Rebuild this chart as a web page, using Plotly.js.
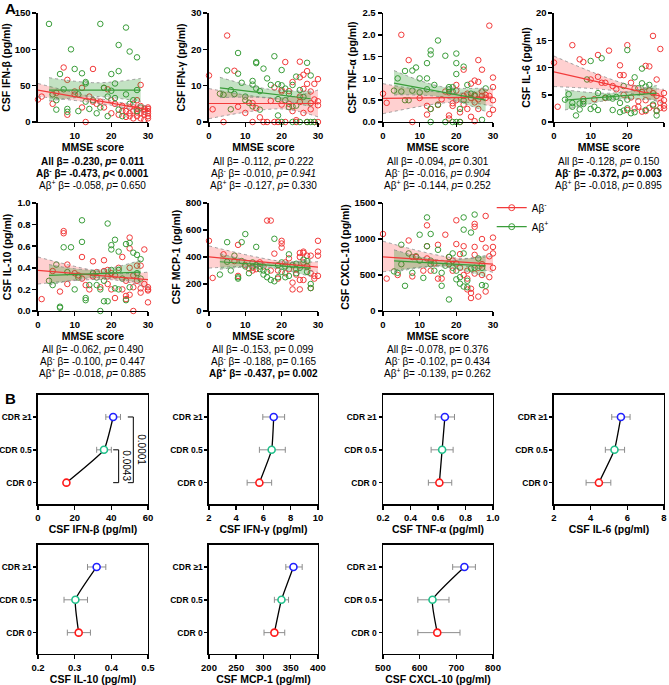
<!DOCTYPE html>
<html>
<head>
<meta charset="utf-8">
<script src="https://cdn.plot.ly/plotly-3.0.1.min.js"></script>
<style>
body { margin: 0; background: #fff; }
#chart { width: 669px; height: 685px; }
</style>
</head>
<body>
<div id="chart"></div>
<script>
// Panel A: CSF cytokines against MMSE score, Aβ- (red) and Aβ+ (green)
var cytokines = ["IFN-β", "IFN-γ", "TNF-α", "IL-6", "IL-10", "MCP-1", "CXCL-10"];
var yMax = [150, 30, 2.5, 20, 1.0, 800, 1500];
var yStep = [50, 10, 0.5, 5, 0.2, 200, 500];
var yFormat = ["", "", ".1f", "", ".1f", "", ""];

var ifnbNeg = [[0,31],[1,35],[4,25],[5,40],[7,75],[8,58],[8,10],[10,38],[10,42],[12,47],[12,20],[13,0],[14,35],[15,73],[15,28],[16,25],[17,28],[18,20],[18,47],[19,45],[20,30],[20,12],[21,25],[22,10],[23,22],[23,15],[24,7],[24,15],[25,20],[25,12],[25,8],[26,5],[26,25],[26,15],[27,30],[27,8],[27,18],[27,13],[28,51],[28,22],[28,12],[28,5],[29,10],[29,18],[29,3],[29,14],[30,15],[30,8],[30,20],[30,12],[30,5],[30,18]];
var ifnbPos = [[3,135],[17,135],[24,130],[9,100],[22,106],[25,97],[27,89],[10,73],[12,67],[6,66],[22,70],[20,66],[13,55],[13,53],[18,47],[21,53],[20,43],[7,45],[27,44],[4,38],[11,38],[5,30],[15,30],[19,35],[24,38],[26,30],[8,18],[8,14],[5,17],[11,15],[14,18],[16,12],[17,20],[19,8],[22,17],[23,8],[25,25],[27,15],[28,20],[13,28],[21,33]];

var ifngNeg = [[0,12.8],[1,3.5],[4,0],[5,23.8],[7,14.1],[8,4.2],[10,2.5],[12,0],[12,5.2],[13,3.8],[14,1.3],[15,0],[16,0],[17,5.8],[18,0],[18,9.5],[19,0],[20,8.8],[20,8.4],[20,4.8],[21,16.5],[21,0],[22,5],[22,8.5],[23,3],[23,11],[24,0.5],[24,0],[25,16.6],[25,12.3],[25,7],[25,5.5],[26,9.1],[26,2.5],[26,13],[27,10.5],[27,0],[27,14],[28,8.4],[28,5.2],[28,3.5],[29,6.2],[29,10.5],[29,0],[30,11.8],[30,5.7],[30,4.6],[30,0]];
var ifngPos = [[3,7.8],[4,7.5],[5,14.2],[6,8.8],[6,3.5],[7,7.7],[8,19],[8,13.3],[9,10.8],[10,7],[10,6],[11,5.3],[12,11.3],[12,10.3],[12,4.3],[13,16.2],[13,16.5],[13,9.2],[14,8.5],[14,3.4],[15,14.7],[16,12],[17,10.2],[18,18.1],[19,10.4],[19,6.3],[19,1.8],[20,14.3],[20,10.1],[20,0],[21,9.2],[21,6],[22,7.8],[22,4.1],[23,10.2],[23,4.3],[23,0],[24,12.5],[24,4.5],[25,8.8],[25,0],[26,6.9],[27,16.3],[27,0],[28,12.8],[28,0],[29,0]];

var tnfNeg = [[0,0.65],[1,0.44],[5,2.0],[7,1.42],[8,0],[10,0.55],[12,0.37],[12,0.17],[13,0.3],[15,0.39],[16,0.52],[17,0.7],[18,0.08],[18,0.15],[18,0.68],[19,0.37],[19,0.43],[20,0.5],[20,0.72],[20,0.85],[21,0.22],[21,0],[22,0.4],[22,0.6],[22,1.2],[23,0.3],[23,0.65],[24,0.88],[24,0.55],[24,0.12],[25,0.95],[25,0.6],[25,0.02],[25,0.45],[26,1.42],[26,0.92],[26,0.52],[26,0.3],[27,1.2],[27,0.7],[27,0.6],[28,0.55],[28,0.62],[29,2.21],[29,0.6],[29,0.18],[30,1.02],[30,0.8],[30,0.5],[30,0.28]];
var tnfPos = [[3,0.72],[4,1.0],[5,0.7],[6,1.17],[6,0.5],[7,0.5],[8,1.18],[8,0.72],[9,1.25],[10,1.0],[10,0.68],[12,1.35],[12,1.0],[12,0.75],[13,1.64],[13,1.55],[13,0.3],[13,0],[14,0.85],[15,1.87],[15,0.4],[17,1.52],[17,0],[18,0.75],[18,0.8],[19,0.8],[19,0.7],[19,0],[20,1.57],[20,1.35],[20,1.1],[20,0],[21,0.3],[21,0],[22,1.27],[22,0.5],[23,0.85],[24,0.65],[25,0.62],[27,0.05],[28,0.77]];

var il6Neg = [[0,10.9],[1,2.8],[5,14.1],[7,11.5],[8,11],[8,4.2],[10,7.8],[11,4.2],[12,12.3],[12,8.3],[13,7.2],[14,4.4],[14,7.2],[15,13.1],[16,6.6],[17,6],[18,10.4],[18,8.6],[19,8.6],[19,5],[20,14.1],[20,2.2],[21,7.2],[21,4.5],[22,6.2],[22,2.5],[23,2.8],[23,3.8],[24,5.5],[24,1.9],[25,10.3],[25,4],[25,2],[26,10.2],[26,5.8],[26,2.6],[27,15.8],[27,5.3],[27,3],[28,7.8],[28,4.8],[28,2],[29,13.4],[29,3.5],[29,2.6],[30,5.3],[30,4],[30,3],[30,2.5]];
var il6Pos = [[3,4.1],[4,5.1],[5,2.8],[5,3.5],[6,1.2],[7,2.3],[7,3.4],[8,3.8],[8,3.3],[9,7.8],[10,11.2],[10,2.4],[11,2.8],[12,5.3],[12,2.2],[13,11.7],[14,4.5],[15,4.5],[16,2.2],[16,4.3],[17,4.6],[18,3.5],[18,1.8],[19,2.1],[19,6.6],[20,13.2],[20,4.1],[20,2.5],[21,1.6],[22,8.2],[22,1.8],[23,6.2],[24,9.8],[24,7.1],[25,6.5],[25,2.2],[26,6.8],[27,3.2],[28,1.2],[28,2.1]];

var il10Neg = [[1,0.11],[4,0.37],[6,0.18],[7,0.74],[7,0.72],[8,0.43],[8,0.25],[10,0.35],[11,0.33],[12,0.3],[12,0.5],[13,0.24],[14,0.2],[15,0.32],[15,0.46],[16,0.36],[17,0.22],[18,0.47],[18,0.37],[19,0.38],[19,0.25],[19,0.32],[20,0.2],[20,0.35],[21,0.33],[21,0.12],[22,0.4],[23,0.2],[23,0.5],[24,0.28],[24,0.11],[24,0.14],[25,0.68],[25,0.58],[25,0.4],[25,0.15],[26,0.33],[26,0.22],[26,0],[27,0.28],[27,0.42],[28,0.42],[28,0.17],[28,0.21],[29,0.57],[29,0.25],[30,0.22],[30,0.19],[30,0.08],[30,0.2]];
var il10Pos = [[3,0.28],[4,0.24],[5,0.43],[6,0.04],[6,0.03],[7,0.59],[8,0.36],[9,0.59],[10,0.2],[11,0.31],[12,0.84],[12,0.64],[13,0.12],[13,0.1],[14,0.24],[15,0.35],[16,0.24],[16,0.31],[17,0.2],[17,0],[18,0.09],[18,0.28],[19,0.81],[19,0.09],[20,0.61],[20,0.57],[20,0.38],[21,0.66],[21,0.21],[22,0.55],[22,0.2],[22,0.38],[23,0.3],[24,0.62],[24,0.1],[25,0.63],[25,0.22],[26,0.54],[27,0.52],[27,0.35],[28,0.48],[28,0.3]];

var mcpNeg = [[0,520],[1,245],[4,420],[7,370],[8,490],[8,260],[10,340],[11,315],[12,300],[12,320],[13,310],[14,360],[15,330],[16,670],[17,670],[17,300],[18,425],[19,240],[19,300],[20,520],[20,500],[20,470],[21,360],[21,280],[22,390],[22,310],[23,210],[23,160],[24,310],[24,270],[25,430],[25,400],[25,160],[25,230],[26,440],[26,430],[26,360],[26,230],[27,330],[27,410],[28,410],[28,280],[28,170],[29,260],[29,240],[30,520],[30,440],[30,410],[30,260]];
var mcpPos = [[3,270],[5,510],[5,365],[6,300],[7,410],[8,240],[8,250],[9,510],[9,370],[10,570],[10,330],[11,280],[12,360],[12,330],[13,475],[13,340],[14,310],[14,330],[15,270],[15,300],[16,290],[16,250],[17,230],[18,220],[18,535],[19,340],[19,250],[20,290],[20,360],[21,330],[21,250],[22,420],[22,260],[23,340],[24,350],[24,280],[25,320],[26,380],[27,370],[27,290],[28,200],[28,170]];

var cxclNeg = [[0,1070],[1,450],[4,500],[7,980],[8,480],[8,750],[9,750],[11,560],[12,1190],[12,900],[12,730],[13,560],[14,660],[15,920],[15,450],[16,450],[17,1060],[18,750],[18,650],[19,560],[19,700],[20,1260],[20,930],[20,660],[21,600],[21,790],[22,900],[22,500],[23,450],[23,300],[23,560],[24,310],[24,250],[24,180],[25,1210],[25,1170],[25,890],[25,780],[25,520],[26,600],[26,200],[27,1000],[27,650],[27,500],[28,1320],[28,880],[28,270],[29,470],[29,760],[30,1020],[30,890],[30,600],[30,800]];
var cxclPos = [[3,550],[4,530],[5,920],[5,650],[6,350],[7,800],[8,530],[9,760],[10,1060],[10,700],[11,460],[12,1300],[12,900],[13,1070],[13,700],[13,650],[14,560],[15,850],[16,350],[16,530],[17,630],[18,160],[18,750],[19,800],[19,600],[20,440],[20,560],[21,380],[21,470],[22,1300],[22,1130],[22,800],[22,340],[23,420],[23,330],[24,1090],[24,590],[25,1340],[25,600],[26,730],[27,360],[27,600],[28,350]];

var negPoints = [ifnbNeg, ifngNeg, tnfNeg, il6Neg, il10Neg, mcpNeg, cxclNeg];
var posPoints = [ifnbPos, ifngPos, tnfPos, il6Pos, il10Pos, mcpPos, cxclPos];

// regression lines (start, end) and 95% CI read at the band x positions
var negFitX = [0, 30];
var negBandX = [0, 20, 30];
var posFitX = [3, 28];
var posBandX = [3, 16, 28];
var negLine = [[44, 17], [5.1, 5.1], [0.54, 0.57], [9.2, 4.6], [0.377, 0.29], [401, 325], [752, 651]];
var negLo = [[35, 23, 12], [0.9, 3.6, 1.4], [0.19, 0.46, 0.36], [6.5, 5.4, 3.3], [0.25, 0.29, 0.22], [318, 332, 285], [545, 635, 537]];
var negHi = [[53, 29, 22], [9.2, 6.6, 8.8], [0.88, 0.66, 0.78], [12.1, 6.9, 6.0], [0.50, 0.35, 0.36], [482, 368, 365], [970, 735, 766]];
var posLine = [[44, 44], [9.4, 6.4], [0.89, 0.50], [4.0, 5.3], [0.33, 0.36], [365, 318], [697, 628]];
var posLo = [[29, 35, 28], [6.7, 6.6, 4.2], [0.62, 0.57, 0.24], [2.2, 4.1, 4.0], [0.24, 0.31, 0.26], [310, 325, 255], [540, 615, 475]];
var posHi = [[61, 54, 60], [12.3, 9.1, 8.5], [1.18, 0.81, 0.78], [5.9, 5.3, 6.7], [0.43, 0.38, 0.47], [425, 356, 380], [850, 705, 770]];

var statsAll = ["<b>All β= -0.230, <i>p</i>= 0.011</b>", "All β= -0.112, <i>p</i>= 0.222", "All β= -0.094, <i>p</i>= 0.301",
  "All β= -0.128, <i>p</i>= 0.150", "All β= -0.062, <i>p</i>= 0.490", "All β= -0.153, p= 0.099", "All β= -0.078, p= 0.376"];
var statsNeg = ["<b>Aβ<sup>-</sup> β= -0.473, <i>p</i>< 0.0001</b>", "Aβ<sup>-</sup> β= -0.010, <i>p</i>= <i>0.941</i>",
  "Aβ<sup>-</sup> β= -0.016, <i>p</i>= <i>0.904</i>", "<b>Aβ<sup>-</sup> β= -0.372, <i>p</i>= 0.003</b>",
  "Aβ<sup>-</sup> β= -0.100, <i>p</i>= 0.447", "Aβ<sup>-</sup> β= -0.188, p= 0.165", "Aβ<sup>-</sup> β= -0.102, p= 0.434"];
var statsPos = ["Aβ<sup>+</sup> β= -0.058, <i>p</i>= 0.650", "Aβ<sup>+</sup> β= -0.127, <i>p</i>= 0.330",
  "Aβ<sup>+</sup> β= -0.144, <i>p</i>= 0.252", "Aβ<sup>+</sup> β= -0.018, <i>p</i>= 0.895",
  "Aβ<sup>+</sup> β= -0.018, <i>p</i>= 0.885", "<b>Aβ<sup>+</sup> β= -0.437, p= 0.002</b>", "Aβ<sup>+</sup> β= -0.139, p= 0.262"];

// Panel B: cytokine level by CDR group (mean with SEM)
var cdrLabels = ["CDR 0", "CDR 0.5", "CDR ≥1"];
var cdrColors = ["#ff1a1a", "#1fc08a", "#2020ff"];
var bMean = [[15.5, 36, 41], [5.7, 6.6, 6.75], [0.61, 0.63, 0.65], [4.45, 5.3, 5.65], [0.311, 0.302, 0.36], [320, 333, 355], [648, 635, 722]];
var bLo = [[14.5, 32, 37], [4.8, 5.7, 5.95], [0.53, 0.55, 0.58], [3.75, 4.8, 5.15], [0.28, 0.271, 0.335], [301, 320, 341], [595, 595, 690]];
var bHi = [[16.5, 40, 45], [6.6, 7.6, 7.55], [0.70, 0.71, 0.72], [5.1, 5.85, 6.15], [0.343, 0.335, 0.385], [339, 346, 371], [710, 680, 752]];
var bRange = [[0, 60], [2, 10], [0.2, 1.0], [2, 8], [0.2, 0.5], [200, 400], [500, 800]];
var bStep = [20, 2, 0.2, 2, 0.1, 50, 100];
var bFormat = ["", "", ".1f", "", ".1f", "", ""];
var pLabels = ["0.0043", "0.0001"];
var bracketX = [44, 52];

var FONT = "Liberation Sans, Arial, sans-serif";
var RED = "#f23a3a", GREEN = "#3a9d3a";
var colA = [[0.0568, 0.2212], [0.3124, 0.4753], [0.5725, 0.7369], [0.8281, 0.9925]];
var rowA = [[0.8219, 0.9810], [0.5460, 0.7036]];
var rowB = [[0.2642, 0.4234], [0.0453, 0.2044]];

var data = [];
var layout = {
  width: 669, height: 685,
  margin: {l: 0, r: 0, t: 0, b: 0},
  paper_bgcolor: "#fff", plot_bgcolor: "rgba(0,0,0,0)",
  font: {family: FONT, color: "#000"},
  showlegend: true,
  legend: {x: 0.735, y: 0.718, xanchor: "left", yanchor: "top", font: {size: 10, family: FONT},
           bgcolor: "rgba(0,0,0,0)", itemwidth: 30, tracegroupgap: 0, traceorder: "normal"},
  annotations: [], shapes: []
};

function pyFromPx(px) { return 1 - px / 685; }

function axisBase() {
  return {
    showgrid: false, zeroline: false, showline: true, linecolor: "#000", linewidth: 1.5,
    ticks: "outside", ticklen: 4, tickwidth: 1.5, tickcolor: "#000",
    tickfont: {family: FONT, size: 9.5, weight: "bold", color: "#000"},
    fixedrange: true
  };
}

function col(arr, j) { return arr.map(function (p) { return p[j]; }); }

// --- Panel A subplots ---
for (var i = 0; i < 7; i++) {
  var k = i + 1;
  var xa = "x" + (k === 1 ? "" : k), ya = "y" + (k === 1 ? "" : k);
  var r = i < 4 ? 0 : 1, c = i % 4;

  data.push({x: col(negPoints[i], 0), y: col(negPoints[i], 1), xaxis: xa, yaxis: ya, type: "scatter", mode: "markers",
    marker: {symbol: "circle-open", size: 5.5, color: RED, line: {width: 1}}, cliponaxis: false, showlegend: false, hoverinfo: "skip"});
  data.push({x: col(posPoints[i], 0), y: col(posPoints[i], 1), xaxis: xa, yaxis: ya, type: "scatter", mode: "markers",
    marker: {symbol: "circle-open", size: 5.5, color: GREEN, line: {width: 1}}, cliponaxis: false, showlegend: false, hoverinfo: "skip"});

  var edge = {color: "#8a8a8a", width: 0.8, dash: "dot", shape: "spline"};
  data.push({x: negBandX, y: negLo[i], xaxis: xa, yaxis: ya, mode: "lines", line: edge, showlegend: false, hoverinfo: "skip"});
  data.push({x: negBandX, y: negHi[i], xaxis: xa, yaxis: ya, mode: "lines", line: edge, fill: "tonexty",
    fillcolor: "rgba(255,40,40,0.22)", showlegend: false, hoverinfo: "skip"});
  data.push({x: posBandX, y: posLo[i], xaxis: xa, yaxis: ya, mode: "lines", line: edge, showlegend: false, hoverinfo: "skip"});
  data.push({x: posBandX, y: posHi[i], xaxis: xa, yaxis: ya, mode: "lines", line: edge, fill: "tonexty",
    fillcolor: "rgba(40,150,40,0.28)", showlegend: false, hoverinfo: "skip"});
  data.push({x: negFitX, y: negLine[i], xaxis: xa, yaxis: ya, mode: "lines", line: {color: RED, width: 1.2}, showlegend: false, hoverinfo: "skip"});
  data.push({x: posFitX, y: posLine[i], xaxis: xa, yaxis: ya, mode: "lines", line: {color: GREEN, width: 1.2}, showlegend: false, hoverinfo: "skip"});

  var xax = axisBase();
  xax.domain = colA[c]; xax.anchor = ya; xax.range = [0, 30];
  xax.tickvals = i === 0 ? [10, 20, 30] : [0, 10, 20, 30];
  xax.title = {text: "MMSE score", font: {family: FONT, size: 10.5, weight: "bold"}, standoff: 3};
  var yax = axisBase();
  yax.domain = rowA[r]; yax.anchor = xa; yax.range = [0, yMax[i]]; yax.dtick = yStep[i]; yax.tick0 = 0;
  yax.tickformat = yFormat[i];
  yax.title = {text: "CSF " + cytokines[i] + " (pg/ml)", font: {family: FONT, size: 10.5, weight: "bold"}, standoff: 3};
  layout["xaxis" + (k === 1 ? "" : k)] = xax;
  layout["yaxis" + (k === 1 ? "" : k)] = yax;

  var cx = (colA[c][0] + colA[c][1]) / 2;
  var baseY = r === 0 ? 161 : 349;
  [statsAll[i], statsNeg[i], statsPos[i]].forEach(function (t, j) {
    layout.annotations.push({text: t, xref: "paper", yref: "paper", x: cx, y: pyFromPx(baseY + 12 * j),
      xanchor: "center", yanchor: "middle", showarrow: false, font: {family: FONT, size: 10, color: "#000"}});
  });
}

// legend entries for the two groups
data.push({x: [null], y: [null], xaxis: "x7", yaxis: "y7", mode: "lines+markers", name: "Aβ<sup>-</sup>",
  line: {color: RED, width: 1.2}, marker: {symbol: "circle-open", size: 6, color: RED, line: {width: 1}}});
data.push({x: [null], y: [null], xaxis: "x7", yaxis: "y7", mode: "lines+markers", name: "Aβ<sup>+</sup>",
  line: {color: GREEN, width: 1.2}, marker: {symbol: "circle-open", size: 6, color: GREEN, line: {width: 1}}});

// --- Panel B subplots ---
for (var i = 0; i < 7; i++) {
  var k = i + 8;
  var xa = "x" + k, ya = "y" + k;
  var r = i < 4 ? 0 : 1, c = i % 4;
  var plus = bHi[i].map(function (h, j) { return h - bMean[i][j]; });
  var minus = bLo[i].map(function (l, j) { return bMean[i][j] - l; });
  data.push({x: bMean[i], y: [0, 1, 2], xaxis: xa, yaxis: ya, type: "scatter", mode: "lines+markers",
    line: {color: "#000", width: 1.3, shape: "spline", smoothing: 0.35},
    marker: {symbol: "circle", size: 7, color: "#fff", line: {width: 1.6, color: cdrColors}},
    error_x: {type: "data", symmetric: false, array: plus, arrayminus: minus, color: "#8c8c8c", thickness: 1, width: 3},
    cliponaxis: false, showlegend: false, hoverinfo: "skip"});

  var xax = axisBase();
  xax.domain = colA[c]; xax.anchor = ya; xax.range = bRange[i]; xax.dtick = bStep[i]; xax.tick0 = bRange[i][0];
  xax.tickformat = bFormat[i]; xax.mirror = true;
  xax.title = {text: "CSF " + cytokines[i] + " (pg/ml)", font: {family: FONT, size: 10.5, weight: "bold"}, standoff: 3};
  var yax = axisBase();
  yax.domain = rowB[r]; yax.anchor = xa; yax.range = [-0.65, 2.67]; yax.mirror = true;
  yax.tickvals = [0, 1, 2]; yax.ticktext = cdrLabels; yax.ticklen = 3;
  yax.tickfont = {family: FONT, size: 8.5, weight: "bold", color: "#000"};
  layout["xaxis" + k] = xax;
  layout["yaxis" + k] = yax;
}

// significance brackets on IFN-β (CDR 0 vs 0.5, CDR 0 vs ≥1)
var bracketTop = [1, 2];
bracketX.forEach(function (bx, j) {
  var tickIn = bx - 3;
  layout.shapes.push({type: "path", xref: "x8", yref: "y8",
    path: "M" + tickIn + "," + bracketTop[j] + " L" + bx + "," + bracketTop[j] + " L" + bx + ",0 L" + tickIn + ",0",
    line: {color: "#000", width: 1}});
  layout.annotations.push({text: pLabels[j], xref: "x8", yref: "y8", x: bx + 4.5, y: bracketTop[j] / 2,
    textangle: 90, showarrow: false, font: {family: FONT, size: 10, color: "#000"}});
});

layout.annotations.push({text: "<b>A</b>", xref: "paper", yref: "paper", x: 0.004, y: pyFromPx(8),
  xanchor: "left", yanchor: "middle", showarrow: false, font: {family: FONT, size: 15, color: "#000"}});
layout.annotations.push({text: "<b>B</b>", xref: "paper", yref: "paper", x: 0.004, y: pyFromPx(398),
  xanchor: "left", yanchor: "middle", showarrow: false, font: {family: FONT, size: 15, color: "#000"}});

Plotly.newPlot("chart", data, layout, {displayModeBar: false, staticPlot: true});
</script>
</body>
</html>
